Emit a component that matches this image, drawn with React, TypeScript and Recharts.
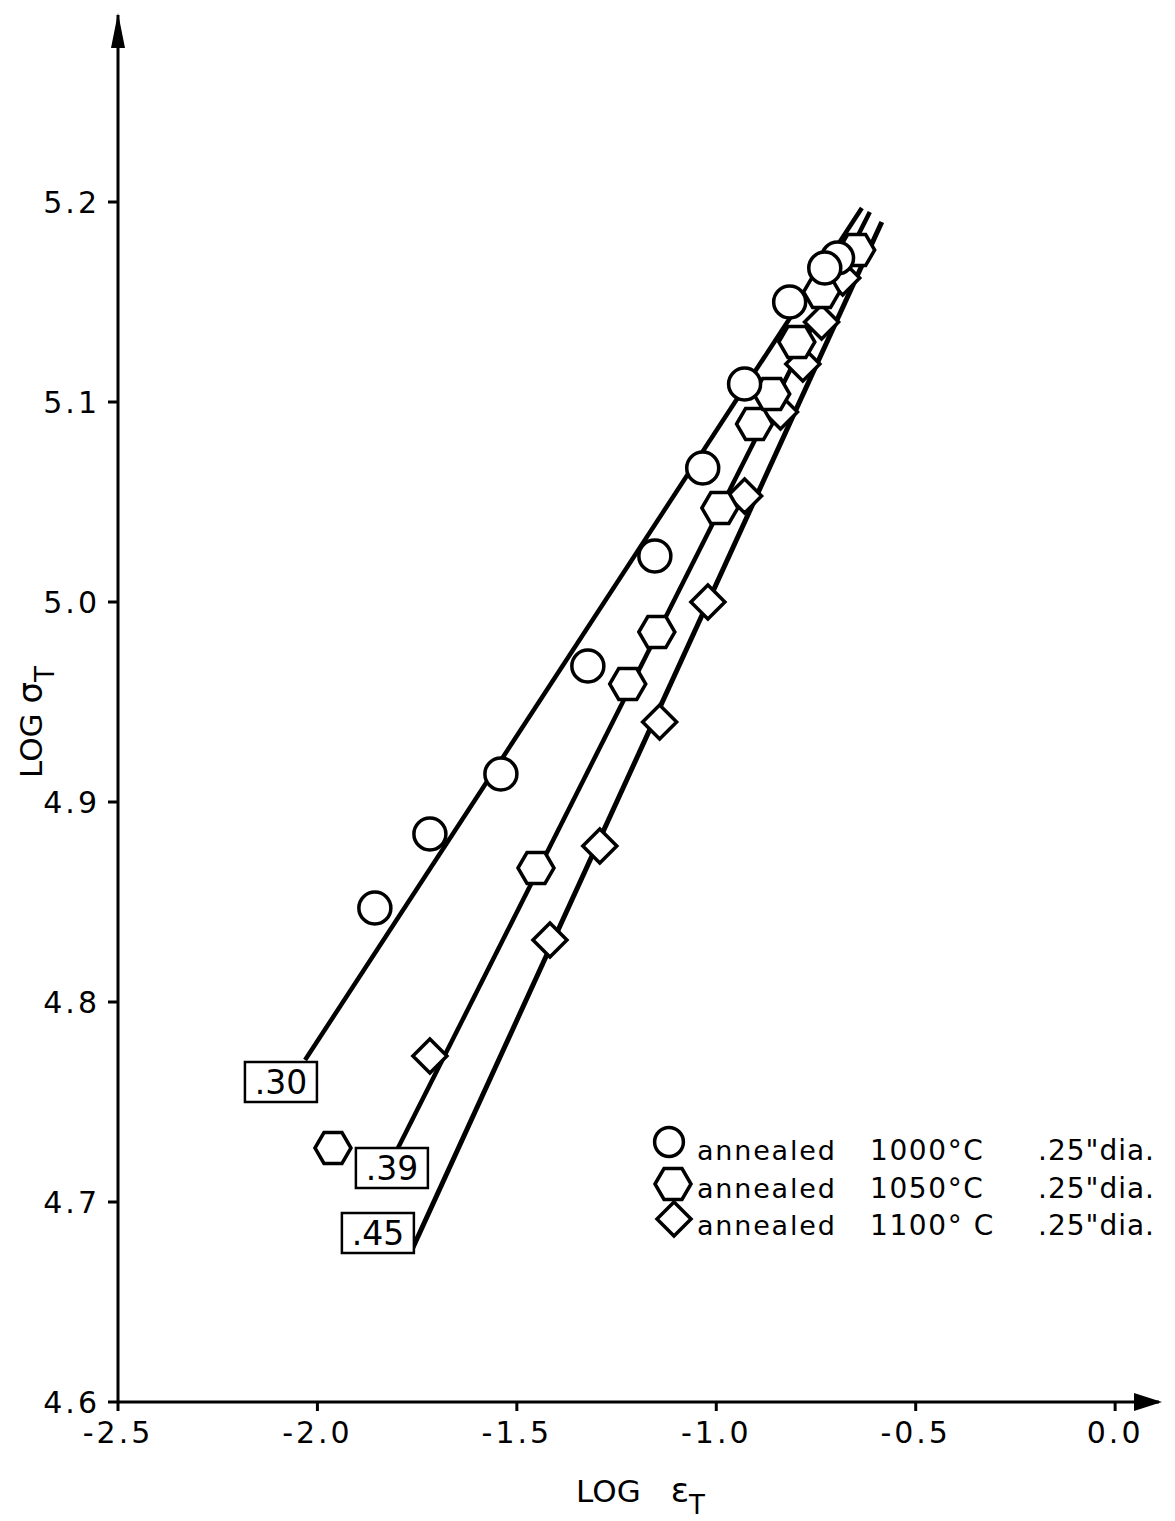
import React from "react";
import { ScatterChart, Scatter, XAxis, YAxis, ReferenceDot, Legend, Label } from "recharts";

type Pt = { x: number; y: number };

const FONT = "'DejaVu Sans', sans-serif";

// axis ticks
const xTicks = [-2.5, -2.0, -1.5, -1.0, -0.5, 0.0];
const yTicks = [4.6, 4.7, 4.8, 4.9, 5.0, 5.1, 5.2];
const xMin = -2.5;
const xMax = 0.11;
const yMin = 4.6;
const yMax = 5.2935;

// measured points, log strain vs log stress
const annealed1000: Pt[] = [
  { x: -1.856, y: 4.847 },
  { x: -1.718, y: 4.884 },
  { x: -1.54, y: 4.914 },
  { x: -1.322, y: 4.968 },
  { x: -1.154, y: 5.023 },
  { x: -1.034, y: 5.067 },
  { x: -0.929, y: 5.109 },
  { x: -0.816, y: 5.15 },
  { x: -0.696, y: 5.172 },
  { x: -0.728, y: 5.167 },
];

const annealed1050: Pt[] = [
  { x: -1.961, y: 4.727 },
  { x: -1.452, y: 4.867 },
  { x: -1.222, y: 4.959 },
  { x: -1.149, y: 4.985 },
  { x: -0.991, y: 5.047 },
  { x: -0.904, y: 5.089 },
  { x: -0.861, y: 5.104 },
  { x: -0.798, y: 5.13 },
  { x: -0.736, y: 5.155 },
  { x: -0.648, y: 5.176 },
];

const annealed1100: Pt[] = [
  { x: -1.718, y: 4.773 },
  { x: -1.417, y: 4.831 },
  { x: -1.292, y: 4.878 },
  { x: -1.142, y: 4.94 },
  { x: -1.021, y: 5.0 },
  { x: -0.929, y: 5.053 },
  { x: -0.839, y: 5.095 },
  { x: -0.783, y: 5.119 },
  { x: -0.736, y: 5.14 },
  { x: -0.683, y: 5.162 },
];

// fitted lines (slopes .30, .39, .45)
const fit30: Pt[] = [
  { x: -2.031, y: 4.771 },
  { x: -0.635, y: 5.197 },
];
const fit39: Pt[] = [
  { x: -1.798, y: 4.727 },
  { x: -0.615, y: 5.195 },
];
const fit45: Pt[] = [
  { x: -1.761, y: 4.677 },
  { x: -0.585, y: 5.19 },
];

const slopeLabels = [
  { x: -2.0915, y: 4.76, text: ".30" },
  { x: -1.8133, y: 4.717, text: ".39" },
  { x: -1.8484, y: 4.6845, text: ".45" },
];

const seriesTemps = ["1000°C", "1050°C", "1100° C"];
const seriesKinds = ["circle", "hexagon", "diamond"];

const Marker = ({ kind, cx, cy, s = 1 }: { kind: string; cx: number; cy: number; s?: number }) => {
  if (kind === "circle") {
    return <circle cx={cx} cy={cy} r={16 * s} fill="#fff" stroke="#000" strokeWidth={3.5} />;
  }
  if (kind === "hexagon") {
    const w = 18 * s;
    const h = 15.5 * s;
    const pts = [
      [cx - w, cy],
      [cx - w / 2, cy - h],
      [cx + w / 2, cy - h],
      [cx + w, cy],
      [cx + w / 2, cy + h],
      [cx - w / 2, cy + h],
    ];
    return <polygon points={pts.map((p) => p.join(",")).join(" ")} fill="#fff" stroke="#000" strokeWidth={3.5} />;
  }
  const d = 17 * s;
  return (
    <polygon
      points={`${cx},${cy - d} ${cx + d},${cy} ${cx},${cy + d} ${cx - d},${cy}`}
      fill="#fff"
      stroke="#000"
      strokeWidth={3.5}
    />
  );
};

const shapeFor = (kind: string) => (props: any) => <Marker kind={kind} cx={props.cx} cy={props.cy} />;

const NoDot = () => <g />;

const SlopeBox = (props: any) => {
  const { cx, cy, payload } = props;
  return (
    <g>
      <rect x={cx - 36} y={cy - 20} width={72} height={40} fill="#fff" stroke="#000" strokeWidth={2.5} />
      <text x={cx} y={cy + 12} textAnchor="middle" fontFamily={FONT} fontSize={33} fill="#000">
        {payload.text}
      </text>
    </g>
  );
};

const UpArrow = (props: any) => (
  <polygon points={`${props.cx},${props.cy - 2} ${props.cx - 7},${props.cy + 33} ${props.cx + 7},${props.cy + 33}`} fill="#000" />
);

const RightArrow = (props: any) => (
  <polygon points={`${props.cx + 3},${props.cy} ${props.cx - 25},${props.cy - 9} ${props.cx - 25},${props.cy + 9}`} fill="#000" />
);

const XTitle = (props: any) => {
  const vb = props.viewBox;
  return (
    <text x={vb.x + vb.width / 2 + 2} y={vb.y + 100} textAnchor="middle" fontFamily={FONT} fontSize={31} fill="#000">
      LOG
      <tspan dx={30} fontSize={34}>ε</tspan>
      <tspan dy={12} fontSize={26}>T</tspan>
    </text>
  );
};

const YTitle = () => (
  <text transform="translate(42,722) rotate(-90)" textAnchor="middle" fontFamily={FONT} fontSize={31} fill="#000">
    LOG <tspan fontSize={34}>σ</tspan>
    <tspan dy={12} fontSize={26}>T</tspan>
  </text>
);

const LegendBox = () => (
  <svg width={530} height={130}>
    {seriesTemps.map((t, i) => {
      const mx = [24, 28, 29][i];
      const my = [24, 66, 101][i];
      const base = [42, 80, 117][i];
      return (
        <g key={t}>
          <Marker kind={seriesKinds[i]} cx={mx} cy={my} s={i === 0 ? 0.9 : 1} />
          <text x={52} y={base} fontFamily={FONT} fontSize={27} letterSpacing={1.8} fill="#000">
            annealed
          </text>
          <text x={225} y={base} fontFamily={FONT} fontSize={28} letterSpacing={1.6} fill="#000">
            {t}
          </text>
          <text x={393} y={base} fontFamily={FONT} fontSize={28} letterSpacing={1} fill="#000">
            .25"dia.
          </text>
        </g>
      );
    })}
  </svg>
);

export default function App() {
  return (
    <div style={{ position: "absolute", left: 0, top: 0, background: "#fff" }}>
      <ScatterChart width={1175} height={1521} margin={{ top: 15, right: 16, bottom: 59, left: 18 }}>
        <XAxis
          type="number"
          dataKey="x"
          domain={[xMin, xMax]}
          ticks={xTicks}
          tickFormatter={(v: number) => v.toFixed(1)}
          height={60}
          tickSize={9}
          tickMargin={11}
          stroke="#000"
          strokeWidth={3}
          tick={{ fontSize: 30, fill: "#000", fontFamily: FONT, letterSpacing: 3 }}
        >
          <Label content={XTitle} />
        </XAxis>
        <YAxis
          type="number"
          dataKey="y"
          domain={[yMin, yMax]}
          ticks={yTicks}
          tickFormatter={(v: number) => v.toFixed(1)}
          width={100}
          tickSize={10}
          tickMargin={8}
          stroke="#000"
          strokeWidth={3}
          tick={{ fontSize: 30, fill: "#000", fontFamily: FONT, letterSpacing: 3 }}
        >
          <Label content={YTitle} />
        </YAxis>
        <ReferenceDot x={xMin} y={yMax} shape={UpArrow} ifOverflow="visible" />
        <ReferenceDot x={xMax} y={yMin} shape={RightArrow} ifOverflow="visible" />
        <Scatter data={fit30} line={{ stroke: "#000", strokeWidth: 4.5 }} shape={NoDot} isAnimationActive={false} />
        <Scatter data={fit39} line={{ stroke: "#000", strokeWidth: 4.5 }} shape={NoDot} isAnimationActive={false} />
        <Scatter data={fit45} line={{ stroke: "#000", strokeWidth: 5 }} shape={NoDot} isAnimationActive={false} />
        <Scatter data={slopeLabels} shape={SlopeBox} isAnimationActive={false} />
        <Scatter name="annealed 1100°C" data={annealed1100} shape={shapeFor("diamond")} isAnimationActive={false} />
        <Scatter name="annealed 1050°C" data={annealed1050} shape={shapeFor("hexagon")} isAnimationActive={false} />
        <Scatter name="annealed 1000°C" data={annealed1000} shape={shapeFor("circle")} isAnimationActive={false} />
        <Legend
          layout="vertical"
          align="center"
          verticalAlign="middle"
          content={LegendBox}
          wrapperStyle={{ left: 645, top: 1118, width: 530, height: 130 }}
        />
      </ScatterChart>
    </div>
  );
}
